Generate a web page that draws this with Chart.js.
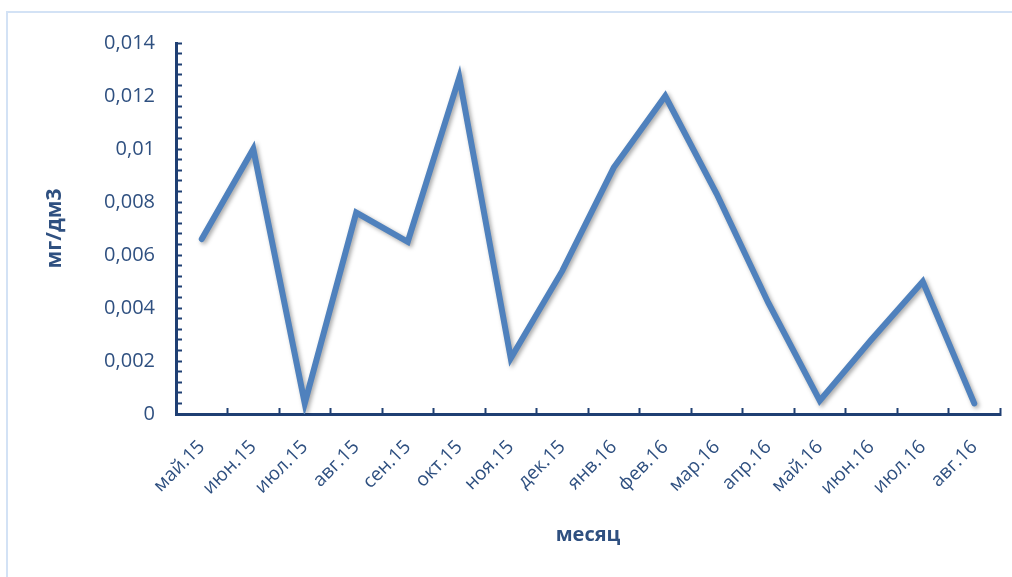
<!DOCTYPE html>
<html lang="ru">
<head>
    <meta charset="UTF-8">
    <title>Концентрация по месяцам</title>
    <style>
        html, body {
            margin: 0;
            padding: 0;
            background: #ffffff;
            overflow: hidden;
        }

        .frame {
            position: absolute;
            left: 6px;
            top: 11px;
            width: 1100px;
            height: 700px;
            border: 2px solid #d3e2f5;
        }

        canvas {
            position: absolute;
            left: 0;
            top: 0;
        }
    </style>
</head>
<body>
    <div class="frame"></div>
    <canvas id="chart" width="1012" height="577"></canvas>

    <script src="https://cdn.jsdelivr.net/npm/chart.js"></script>
    <script>
        // Месяцы наблюдений
        const months = ['май.15', 'июн.15', 'июл.15', 'авг.15', 'сен.15', 'окт.15', 'ноя.15', 'дек.15',
                        'янв.16', 'фев.16', 'мар.16', 'апр.16', 'май.16', 'июн.16', 'июл.16', 'авг.16'];

        // Концентрация, мг/дм3
        const values = [0.0066, 0.0100, 0.0004, 0.0076, 0.0065, 0.0127, 0.0021, 0.0054,
                        0.0093, 0.0120, 0.0083, 0.0042, 0.0005, 0.0028, 0.0050, 0.0004];

        // Подписи основных делений оси Y
        const yTickLabels = ['0', '0,002', '0,004', '0,006', '0,008', '0,01', '0,012', '0,014'];
        const yMax = 0.014;
        const yMinorStep = 0.0004;   // промежуточные деления
        const minorPerMajor = 5;

        const axisColor = '#1f3f73';
        const textColor = '#2f5080';
        const fontFamily = '"Open Sans", sans-serif';

        // Тень под линией
        const lineShadow = {
            id: 'lineShadow',
            beforeDatasetsDraw(chart) {
                const ctx = chart.ctx;
                ctx.save();
                ctx.shadowColor = 'rgba(0, 0, 0, 0.35)';
                ctx.shadowBlur = 4;
                ctx.shadowOffsetX = 2;
                ctx.shadowOffsetY = 2;
            },
            afterDatasetsDraw(chart) {
                chart.ctx.restore();
            }
        };

        new Chart(document.getElementById('chart').getContext('2d'), {
            type: 'line',
            data: {
                labels: months,
                datasets: [{
                    data: values,
                    borderColor: '#4f81bd',
                    borderWidth: 6,
                    borderJoinStyle: 'miter',
                    borderCapStyle: 'round',
                    pointRadius: 0,
                    tension: 0,
                    fill: false
                }]
            },
            options: {
                responsive: false,
                animation: false,
                layout: {
                    padding: { left: 0, top: 43, right: 12, bottom: 0 }
                },
                plugins: {
                    legend: { display: false },
                    tooltip: { enabled: false }
                },
                scales: {
                    x: {
                        offset: true,
                        grid: {
                            offset: true,
                            drawOnChartArea: false,
                            drawTicks: true,
                            tickLength: -6,
                            tickWidth: 2,
                            tickColor: axisColor
                        },
                        border: { color: axisColor, width: 3 },
                        ticks: {
                            autoSkip: false,
                            maxRotation: 45,
                            minRotation: 45,
                            padding: 28,
                            color: textColor,
                            font: { family: fontFamily, size: 19 }
                        },
                        title: {
                            display: true,
                            text: 'месяц',
                            color: textColor,
                            padding: { top: 0, bottom: 30 },
                            font: { family: fontFamily, size: 20, weight: 'bold' }
                        },
                        afterFit(scale) {
                            scale.height = 163;
                            // повёрнутые подписи не должны сужать область графика
                            scale.paddingLeft = 0;
                            scale.paddingRight = 0;
                        }
                    },
                    y: {
                        min: 0,
                        max: yMax,
                        grid: {
                            drawOnChartArea: false,
                            drawTicks: true,
                            tickLength: -6,
                            tickWidth: 2,
                            tickColor: axisColor
                        },
                        border: { color: axisColor, width: 3 },
                        afterBuildTicks(scale) {
                            const count = Math.round(yMax / yMinorStep);
                            const ticks = [];
                            for (let i = 0; i <= count; i++) {
                                ticks.push({ value: i * yMinorStep });
                            }
                            scale.ticks = ticks;
                        },
                        ticks: {
                            autoSkip: false,
                            padding: 27,
                            color: textColor,
                            font: { family: fontFamily, size: 20 },
                            callback: function(value, index) {
                                return index % minorPerMajor === 0 ? yTickLabels[index / minorPerMajor] : '';
                            }
                        },
                        title: {
                            display: true,
                            text: 'мг/дм3',
                            color: textColor,
                            padding: { top: 42, bottom: 0 },
                            font: { family: fontFamily, size: 21, weight: 'bold' }
                        },
                        afterFit(scale) {
                            scale.width = 176;
                        }
                    }
                }
            },
            plugins: [lineShadow]
        });
    </script>
</body>
</html>
